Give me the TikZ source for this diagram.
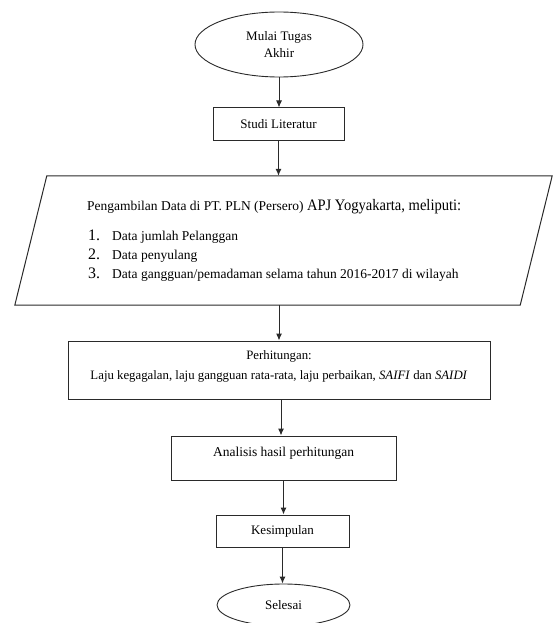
\documentclass[tikz,border=0pt]{standalone}
\usepackage{fontspec}
\setmainfont{Liberation Serif}
\newfontfamily\narrowserif[FakeStretch=0.91]{Liberation Serif}
\usetikzlibrary{arrows.meta,shapes.geometric,calc}
\definecolor{linec}{HTML}{2A2A2A}
\begin{document}
\begin{tikzpicture}[x=1pt,y=-1pt,
  every node/.style={font=\fontsize{13}{17}\selectfont, inner sep=0pt, text=black},
  box/.style={draw=linec, line width=1pt, rectangle},
  term/.style={draw=linec, line width=0.9pt, ellipse},
  arr/.style={draw=linec, line width=1pt, -{Latex[length=7pt,width=6pt]}},
  big/.style={font=\fontsize{16}{19}\selectfont},
  item/.style={font=\fontsize{13.5}{17}\selectfont}]
\useasboundingbox (0,0) rectangle (553,623);

\node[term, minimum width=168, minimum height=65, align=center] (mulai) at (279,44.5) {Mulai Tugas\\Akhir};
\node[box, minimum width=131, minimum height=32] (studi) at (278.5,124) {Studi Literatur};

\node[minimum width=473, minimum height=129] (data) at (283.5,240.5) {};
\draw[draw=linec, line width=1pt] (data.north west) -- ($(data.north east)+(32,0)$) -- (data.south east) -- ($(data.south west)+(-32,0)$) -- cycle;
\node[anchor=base west, item] (title) at (87,210) {Pengambilan Data di PT. PLN (Persero) {\narrowserif\fontsize{16}{19}\selectfont APJ Yogyakarta, meliputi:}};
\node[anchor=base west, big] (n1) at (88,240) {1.};
\node[anchor=base west, item] (i1) at (112,240) {Data jumlah Pelanggan};
\node[anchor=base west, big] (n2) at (88,259) {2.};
\node[anchor=base west, item] (i2) at (112,259) {Data penyulang};
\node[anchor=base west, big] (n3) at (88,278) {3.};
\node[anchor=base west, item] (i3) at (112,278) {Data gangguan/pemadaman selama tahun 2016-2017 di wilayah};

\node[box, minimum width=422, minimum height=58] (hit) at (279,370) {};
\node[align=center, font=\fontsize{12.8}{20}\selectfont] (hittext) at (279,366.4) {Perhitungan:\\Laju kegagalan, laju gangguan rata-rata, laju perbaikan, \textit{SAIFI} dan \textit{SAIDI}};

\node[box, minimum width=225, minimum height=44] (ana) at (283.5,458) {};
\node[font=\fontsize{13.5}{17}\selectfont] (anatext) at (283.5,453.5) {Analisis hasil perhitungan};

\node[box, minimum width=133, minimum height=32] (kes) at (282.5,531) {Kesimpulan};
\node[term, minimum width=133, minimum height=42] (selesai) at (283.5,605) {Selesai};

\draw[arr] (mulai.south) -- (mulai.south |- studi.north);
\draw[arr] (studi.south) -- (studi.south |- data.north);
\draw[arr] (hit.north |- data.south) -- (hit.north);
\draw[arr] ([xshift=2pt]hit.south) -- ([xshift=2pt]hit.south |- ana.north);
\draw[arr] (ana.south) -- (ana.south |- kes.north);
\draw[arr] (kes.south) -- (kes.south |- selesai.north);
\end{tikzpicture}
\end{document}
